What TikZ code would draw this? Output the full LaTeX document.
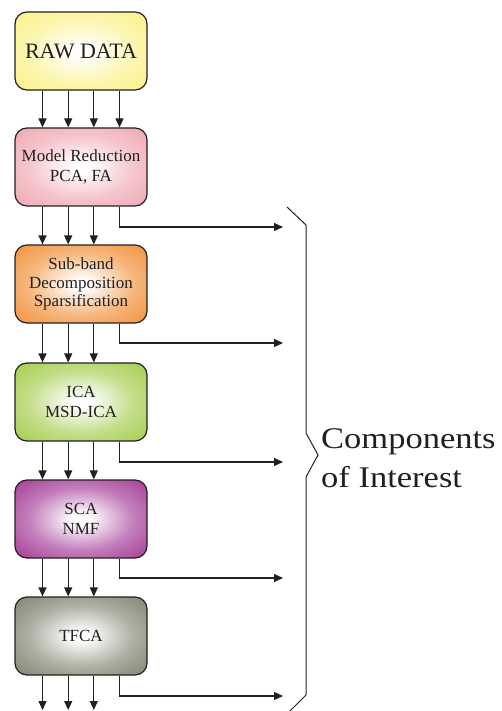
\documentclass[tikz,border=0pt]{standalone}
\usepackage{fontspec}
\usepackage{graphicx}
\setmainfont{Liberation Serif}
\usetikzlibrary{arrows.meta,calc}

\definecolor{ink}{RGB}{35,31,32}
\definecolor{rawcol}{RGB}{250,240,125}
\definecolor{redcol}{RGB}{238,160,170}
\definecolor{subcol}{RGB}{240,135,40}
\definecolor{icacol}{RGB}{155,200,60}
\definecolor{scacol}{RGB}{155,40,140}
\definecolor{tfcol}{RGB}{120,120,100}
\colorlet{glowouter}{gray}

% white centre fading to the stage colour towards the border
\pgfdeclareradialshading[glowouter]{stageglow}{\pgfpointorigin}{%
  color(0bp)=(white); color(3bp)=(white); color(20bp)=(glowouter!60!white);
  color(40bp)=(glowouter); color(80bp)=(glowouter)}

\begin{document}
\begin{tikzpicture}[x=1pt,y=1pt,
  stage/.style={draw=ink, line width=1.2pt, rounded corners=12pt,
    minimum width=132pt, minimum height=78pt, inner sep=2pt,
    align=center, text=ink, font=\fontsize{17}{20}\selectfont},
  fillcol/.style={/utils/exec={\colorlet{glowouter}{#1}}, shading=stageglow},
  flow/.style={draw=ink, line width=1.2pt, -{Triangle[length=9pt,width=8pt]}},
  brace/.style={draw=ink, line width=1pt, line join=miter},
  label/.style={anchor=base west, inner sep=0pt, text=ink,
    font=\fontsize{30}{39}\selectfont}
]
\useasboundingbox (0,0) rectangle (502,-711);
\clip (0,0) rectangle (502,-711);

% processing stages
\node[stage, fillcol=rawcol, font=\fontsize{22}{26}\selectfont] (raw) at (81,-51) {RAW DATA};
\node[stage, fillcol=redcol] (red) at (81,-167) {Model Reduction\\PCA, FA};
\node[stage, fillcol=subcol, font=\fontsize{17}{18.7}\selectfont] (sub) at (81,-284) {Sub-band\\Decomposition\\Sparsification};
\node[stage, fillcol=icacol] (ica) at (81,-402) {ICA\\MSD-ICA};
\node[stage, fillcol=scacol] (sca) at (81,-519) {SCA\\NMF};
\node[stage, fillcol=tfcol] (tfca) at (81,-636) {TFCA};

% free ends of the outgoing arrows
\coordinate (o1) at (283,-227);
\coordinate (o2) at (283,-343);
\coordinate (o3) at (283,-462);
\coordinate (o4) at (283,-578);
\coordinate (o5) at (283,-696);
\coordinate (bottom) at (81,-710);

% four channels from the raw data
\foreach \dx in {-38.5,-12.8,12.8,38.5}
  \draw[flow] ([xshift=\dx pt]raw.south) -- ([xshift=\dx pt]red.north);

% three channels between the later stages
\foreach \a/\b in {red/sub, sub/ica, ica/sca, sca/tfca}
  \foreach \dx in {-38.5,-12.8,12.8}
    \draw[flow] ([xshift=\dx pt]\a.south) -- ([xshift=\dx pt]\b.north);
\foreach \dx in {-38.5,-12.8,12.8}
  \draw[flow] ([xshift=\dx pt]tfca.south) -- ([xshift=\dx pt]bottom);

% side outputs towards the brace
\foreach \a/\o in {red/o1, sub/o2, ica/o3, sca/o4, tfca/o5}
  \draw[flow] ([xshift=38.5pt]\a.south) |- (\o);

% brace
\draw[brace] (287,-207) -- (306,-225) -- (306,-433) -- (318,-455)
  -- (306,-477) -- (306,-695) -- (287,-714);

\node[label] (lblA) at (321,-448) {\scalebox{1.15}[1]{Components}};
\node[label] (lblB) at (321,-487) {\scalebox{1.15}[1]{of Interest}};
\end{tikzpicture}
\end{document}
